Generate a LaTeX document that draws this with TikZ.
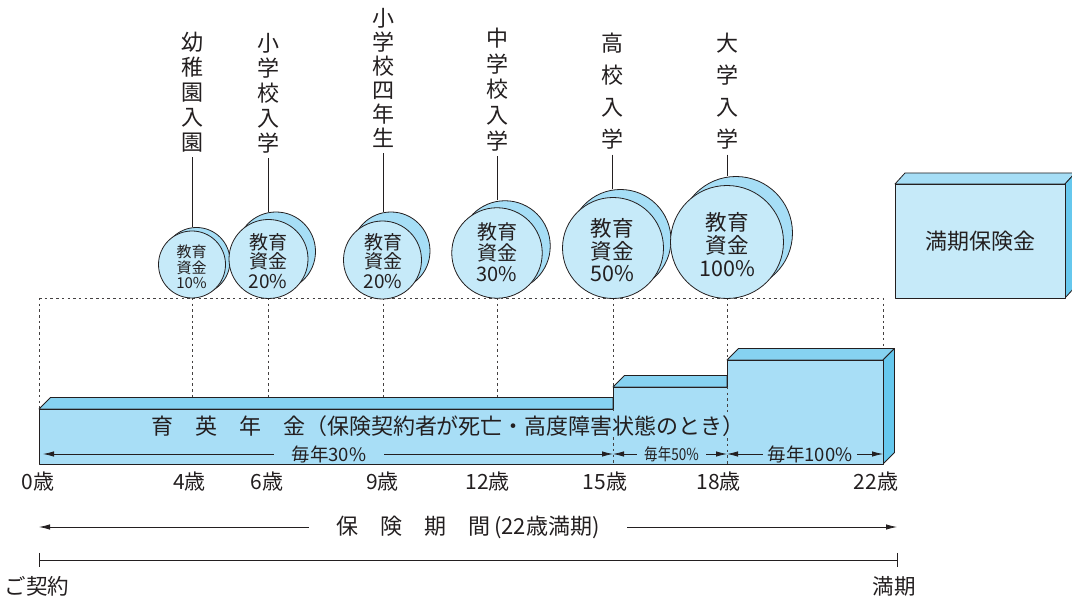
\documentclass[tikz,border=0pt]{standalone}
\usepackage{fontspec}
\setmainfont{Noto Sans CJK JP}
\usetikzlibrary{arrows.meta}
\definecolor{barfront}{HTML}{A8DEF6}
\definecolor{bartop}{HTML}{86D2F1}
\definecolor{barside}{HTML}{66C8EE}
\definecolor{coinfront}{HTML}{C6EAF9}
\definecolor{coinback}{HTML}{A6DEF6}
\definecolor{ink}{HTML}{231F20}
\newcommand{\fsz}[2]{\fontsize{#1}{#2}\selectfont}
\begin{document}
\begin{tikzpicture}[x=1pt,y=-1pt,line join=round,
  edge/.style={draw=ink,line width=0.8pt},
  dots/.style={draw=ink!85,line width=0.7pt,dash pattern=on 2.5pt off 3.2pt},
  vlab/.style={align=center,inner sep=0pt,text=ink},
  coinb/.style={circle,draw=ink,fill=coinback,line width=0.8pt,inner sep=0pt,minimum size=#1},
  coinf/.style={circle,draw=ink,fill=coinfront,line width=0.8pt,inner sep=0pt,minimum size=#1},
  cointext/.style={align=center,inner sep=0pt,text=ink},
  agelab/.style={anchor=east,inner sep=0pt,text=ink,font=\fsz{21}{21}},
  bartext/.style={fill=barfront,inner ysep=1pt,text=ink},
  dtip/.style={{Latex[length=11pt,width=5.5pt]}-{Latex[length=11pt,width=5.5pt]}}
]
\useasboundingbox (0,0) rectangle (1072,601);

% ---- dotted guide lines (behind) ----
\coordinate (t0) at (39,298);
\coordinate (t1) at (192,298);
\coordinate (t2) at (268.5,298);
\coordinate (t3) at (383.5,298);
\coordinate (t4) at (497.5,298);
\coordinate (t5) at (613,298);
\coordinate (t6) at (727,298);
\coordinate (t7) at (883,298);
\draw[dots] (t0) -- (t7);
\draw[dots] (t0) -- (39,409);
\foreach \i in {1,2,3,4} \draw[dots] (t\i) -- ++(0,99.5);
\draw[dots] (t5) -- ++(0,89);
\draw[dots] (t6) -- ++(0,62);
\draw[dots] (t7) -- ++(0,50);

% ---- bar (education annuity) ----
\fill[bartop,draw=ink,line width=0.8pt] (39,409) -- (50.5,397.5) -- (613,397.5) -- (613,409) -- cycle;
\fill[bartop,draw=ink,line width=0.8pt] (613,387) -- (624.5,375.5) -- (727,375.5) -- (727,387) -- cycle;
\fill[bartop,draw=ink,line width=0.8pt] (727,360) -- (738.5,348.5) -- (894.5,348.5) -- (883,360) -- cycle;
\fill[barside,draw=ink,line width=0.8pt] (883,360) -- (894.5,348.5) -- (894.5,452.5) -- (883,464) -- cycle;
\fill[barfront,draw=ink,line width=0.8pt] (39,464) -- (39,409) -- (613,409) -- (613,387) -- (727,387) -- (727,360) -- (883,360) -- (883,464) -- cycle;
\draw[dots] (613,409) -- (613,464);
\draw[dots] (727,387) -- (727,464);

\node[bartext,inner xsep=0pt,font=\fsz{22}{22}] (bt) at (448,426) {育　英　年　金（保険契約者が死亡・高度障害状態のとき）};

\coordinate (a0) at (43,454);
\coordinate (a15) at (613,454);
\coordinate (a18) at (727,454);
\coordinate (a22) at (883,454);
\draw[edge,dtip] (a0) -- (a15);
\draw[edge,dtip] (a15) -- (a18);
\draw[edge,dtip] (a18) -- (a22);
\node[bartext,inner xsep=18pt,font=\fsz{18.5}{18.5}] at (329,454) {毎年30\%};
\node[bartext,inner xsep=7pt,font=\fsz{16.5}{16.5}] at (671.5,454) {\scalebox{0.82}[1]{毎年50\%}};
\node[bartext,inner xsep=5pt,font=\fsz{18.5}{18.5}] at (810,454) {毎年100\%};

% ---- age labels ----
\node[agelab] at (54.5,482) {0歳};
\node[agelab] at (206,482) {4歳};
\node[agelab] at (283.5,482) {6歳};
\node[agelab] at (399,482) {9歳};
\node[agelab] at (510,482) {12歳};
\node[agelab] at (627.5,482) {15歳};
\node[agelab] at (741,482) {18歳};
\node[agelab] at (898.5,482) {22歳};

% ---- coins ----
\node[coinb=67pt] (b1) at (196.5,261) {};
\node[coinf=67pt] (f1) at (192,264.5) {};
\node[coinb=79pt] (b2) at (276,251.5) {};
\node[coinf=79pt] (f2) at (268.5,259) {};
\node[coinb=78pt] (b3) at (391,251) {};
\node[coinf=78pt] (f3) at (382.5,260) {};
\node[coinb=90.5pt] (b4) at (505,246) {};
\node[coinf=90.5pt] (f4) at (497,253) {};
\node[coinb=101pt] (b5) at (620.5,240) {};
\node[coinf=101pt] (f5) at (613,248) {};
\node[coinb=113pt] (b6) at (736,233) {};
\node[coinf=113pt] (f6) at (727,242) {};

\node[cointext,font=\fsz{15}{15.5}] at (191.5,267) {教育\\資金\\10\%};
\node[cointext,font=\fsz{19}{19.5}] at (268,261) {教育\\資金\\20\%};
\node[cointext,font=\fsz{19}{19.5}] at (383,261) {教育\\資金\\20\%};
\node[cointext,font=\fsz{20}{21}] at (497,252.5) {教育\\資金\\30\%};
\node[cointext,font=\fsz{21.5}{22.5}] at (612,250.5) {教育\\資金\\50\%};
\node[cointext,font=\fsz{21.5}{23}] at (727,245) {教育\\資金\\100\%};

% ---- vertical event labels ----
\node[vlab,font=\fsz{22}{25}] (L1) at (192,92) {幼\\稚\\園\\入\\園};
\node[vlab,font=\fsz{22}{25}] (L2) at (268.5,93) {小\\学\\校\\入\\学};
\node[vlab,font=\fsz{22}{24.1}] (L3) at (383.5,78) {小\\学\\校\\四\\年\\生};
\node[vlab,font=\fsz{22}{25.7}] (L4) at (497.5,89.5) {中\\学\\校\\入\\学};
\node[vlab,font=\fsz{22}{32.2}] (L5) at (612,91) {高\\校\\入\\学};
\node[vlab,font=\fsz{22}{32.2}] (L6) at (727,91) {大\\学\\入\\学};

\draw[edge,line width=0.7pt,shorten <=5pt] (L1.south) -- (L1.south |- b1.north);
\draw[edge,line width=0.7pt,shorten <=5pt] (L2.south) -- (L2.south |- b2.north);
\draw[edge,line width=0.7pt,shorten <=5pt] (L3.south) -- (L3.south |- b3.north);
\draw[edge,line width=0.7pt,shorten <=5pt] (L4.south) -- (L4.south |- b4.north);
\draw[edge,line width=0.7pt,shorten <=5pt] (L5.south) -- (L5.south |- b5.north);
\draw[edge,line width=0.7pt,shorten <=5pt] (L6.south) -- (L6.south |- b6.north);

% ---- maturity box ----
\fill[coinback,draw=ink,line width=0.8pt] (895,184) -- (905,173) -- (1075,173) -- (1065,184) -- cycle;
\fill[barside,draw=ink,line width=0.8pt] (1065,184) -- (1075,173) -- (1075,287) -- (1065,298) -- cycle;
\node[draw=ink,fill=coinfront,line width=0.8pt,minimum width=170pt,minimum height=114pt,inner sep=0pt,text=ink,font=\fsz{22}{22}] (box) at (980,241) {満期保険金};

% ---- insurance period ----
\coordinate (pl) at (39,527);
\coordinate (pr) at (897,527);
\draw[edge,dtip] (pl) -- (pr);
\node[fill=white,inner xsep=27pt,inner ysep=2pt,text=ink,font=\fsz{22}{22}] at (468,527) {保　険　期　間\hspace{4pt}(22歳満期)};

\coordinate (s) at (39,560);
\coordinate (e) at (897,560);
\draw[edge] (s) -- (e);
\draw[edge] (s) ++(0,-7) -- ++(0,14);
\draw[edge] (e) ++(0,-7) -- ++(0,14);
\node[text=ink,inner sep=0pt,font=\fsz{21.5}{21.5}] at (37,586) {ご契約};
\node[text=ink,inner sep=0pt,font=\fsz{21.5}{21.5}] at (894,586) {満期};
\end{tikzpicture}
\end{document}
